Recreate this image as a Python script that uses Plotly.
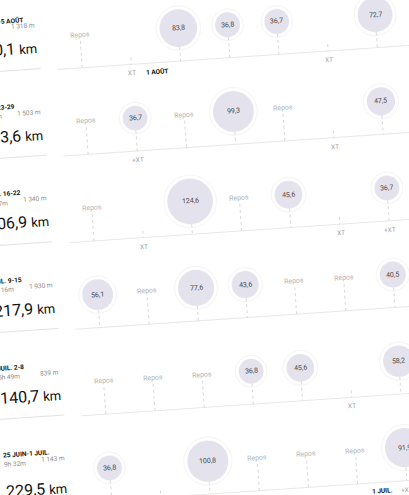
import math
import plotly.graph_objects as go

# ---------------- data ----------------
week_labels = ["30 JUIL.-5 AOÛT", "JUIL. 23-29", "JUIL. 16-22", "JUIL. 9-15", "JUIL. 2-8", "25 JUIN-1 JUIL."]
week_times = ["9h 41m", "7h 48m", "8h 37m", "9h 16m", "5h 49m", "9h 32m"]
week_elev = ["1 318 m", "1 503 m", "1 340 m", "1 930 m", "839 m", "1 143 m"]
week_total = ["230,1", "183,6", "206,9", "217,9", "140,7", "229,5"]

day_km = [
    [None, None, 83.8, 36.8, 36.7, None, 72.7],
    [None, 36.7, None, 99.3, None, None, 47.5],
    [None, None, 124.6, None, 45.6, None, 36.7],
    [56.1, None, 77.6, 43.6, None, None, 40.5],
    [None, None, None, 36.8, 45.6, None, 58.2],
    [36.8, None, 100.8, None, None, None, 91.9],
]
rest_days = [[0], [0, 2, 4], [0, 3], [1, 4, 5], [0, 1, 2], [3, 4, 5]]
xt_days = [[1, 5], [1, 5], [1, 5, 6], [], [5], [1, 6]]
month_marks = [(0, 2, "1 AOÛT"), (5, 6, "1 JUIL.")]
rest_label = "Repos"

# ---------------- geometry (tilted page) ----------------
W, H = 409, 495
ANG = 3.9
S, C = math.sin(math.radians(ANG)), math.cos(math.radians(ANG))
U0, DU, V0, DV = 77.4, 49.3, 40.2, 86.8
KM_DV = 7.5            # offset of the big weekly total below the row centre
KM_DV_LAST = 14.0      # last card sits a little lower in the photographed page
FONT = "Roboto"


def P(u, v):
    return (u * C + v * S, v * C - u * S)


def day_u(d):
    return U0 + d * DU


def row_v(w):
    return V0 + w * DV


def diam(km):
    return 4.1 * math.sqrt(km)


fig = go.Figure()
anns = []


def ann(u, v, text, size, color, xanchor="center", bold=False, paper=False):
    x, y = P(u, v)
    t = f"<b>{text}</b>" if bold else text
    d = dict(text=t, showarrow=False, textangle=-ANG, xanchor=xanchor, yanchor="middle",
             font=dict(family=FONT, size=size, color=color))
    if paper:
        d.update(xref="paper", yref="paper", x=x / W, y=1 - y / H)
    else:
        d.update(xref="x", yref="y", x=x, y=y)
    anns.append(d)


base_x, base_y, sep_x, sep_y = [], [], [], []
stem_x, stem_y = [], []
ring_x, ring_y, ring_s = [], [], []
bub_x, bub_y, bub_s = [], [], []
n_weeks = len(week_labels)

for w in range(n_weeks):
    vc = row_v(w)
    for (u, v) in [(U0 - 0.5 * DU, vc + 33), (480, vc + 33)]:
        x, y = P(u, v)
        base_x.append(x); base_y.append(y)
    base_x.append(None); base_y.append(None)
    for (u, v) in [(-45, vc + 31), (36, vc + 31)]:
        x, y = P(u, v)
        sep_x.append(x); sep_y.append(y)
    sep_x.append(None); sep_y.append(None)

    for d in range(7):
        u = day_u(d)
        km = day_km[w][d]
        top = None
        if km is not None:
            r = diam(km) / 2
            top = vc + r
            x, y = P(u, vc)
            ring_x.append(x); ring_y.append(y); ring_s.append(diam(km) + 7)
            bub_x.append(x); bub_y.append(y); bub_s.append(diam(km))
            ann(u, vc, f"{km:.1f}".replace(".", ","), 7, "#4a4a4a")
        elif d in rest_days[w]:
            top = vc + 6
            ann(u, vc, rest_label, 7, "#b4b4b8")
        elif d in xt_days[w]:
            top = vc + 26
        if top is not None:
            for vv in (top, vc + 33):
                x, y = P(u, vv)
                stem_x.append(x); stem_y.append(y)
            stem_x.append(None); stem_y.append(None)
        if d in xt_days[w]:
            ann(u, vc + 42, "+XT" if km is not None else "XT", 6.5, "#a0a0a4")

    # weekly summary card
    km_dv = KM_DV_LAST if w == n_weeks - 1 else KM_DV
    ann(-30, vc - 21, week_labels[w], 6.5, "#111111", xanchor="left", bold=True, paper=True)
    ann(-30, vc - 11.5, week_times[w], 6.5, "#8a8a8a", xanchor="left", paper=True)
    ann(36, vc - 11.5, week_elev[w], 6.5, "#8a8a8a", xanchor="right", paper=True)
    ann(-30, vc + km_dv, f"{week_total[w]} <span style='font-size:13px'>km</span>", 16, "#111111",
        xanchor="left", paper=True)

for (w, d, lab) in month_marks:
    ann(day_u(d - 0.5), row_v(w) + 42, lab, 6.5, "#111111", bold=True)

fig.add_trace(go.Scatter(x=base_x, y=base_y, mode="lines", line=dict(color="#e8e8e8", width=1),
                         hoverinfo="skip"))
fig.add_trace(go.Scatter(x=sep_x, y=sep_y, mode="lines", line=dict(color="#e2e2e2", width=1),
                         hoverinfo="skip"))
fig.add_trace(go.Scatter(x=ring_x, y=ring_y, mode="markers",
                         marker=dict(size=ring_s, color="rgba(255,255,255,0)",
                                     line=dict(color="#f3efef", width=1)), hoverinfo="skip"))
fig.add_trace(go.Scatter(x=stem_x, y=stem_y, mode="lines",
                         line=dict(color="#dadada", width=1, dash="dot"), hoverinfo="skip"))
fig.add_trace(go.Scatter(x=bub_x, y=bub_y, mode="markers",
                         marker=dict(size=bub_s, color="#d9d6e6", line=dict(width=0)),
                         hoverinfo="skip"))

fig.update_layout(
    width=W, height=H, margin=dict(l=0, r=0, t=0, b=0),
    paper_bgcolor="white", plot_bgcolor="white", showlegend=False,
    xaxis=dict(range=[0, W], visible=False, fixedrange=True),
    yaxis=dict(range=[H, 0], visible=False, fixedrange=True),
    annotations=anns,
)
fig.write_html("out.html", config={"displayModeBar": False},
               post_script="document.body.style.margin='0';document.body.style.overflow='hidden';")
